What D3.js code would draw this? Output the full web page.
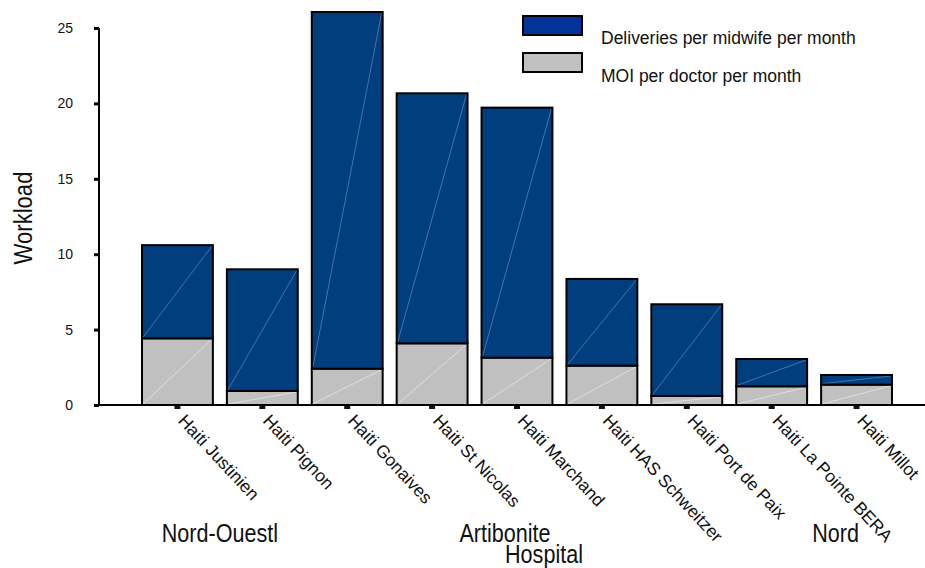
<!DOCTYPE html>
<html>
<head>
<meta charset="utf-8">
<script src="https://cdn.jsdelivr.net/npm/d3@7"></script>
<style>
  body { margin: 0; background: #fff; }
  text { font-family: "Liberation Sans", Arial, sans-serif; fill: #111; }
</style>
</head>
<body>
<script>
// données
const hospitals = ["Haiti Justinien", "Haiti Pignon", "Haiti Gonaives", "Haiti St Nicolas",
  "Haiti Marchand", "Haiti HAS Schweitzer", "Haiti Port de Paix", "Haiti La Pointe BERA", "Haiti Millot"]
const moi = [4.42, 0.93, 2.41, 4.09, 3.14, 2.61, 0.60, 1.24, 1.35]
const deliveries = [6.18, 8.07, 23.65, 16.58, 16.58, 5.75, 6.08, 1.81, 0.64]
const seriesNames = ["MOI per doctor per month", "Deliveries per midwife per month"]
const yTicks = [0, 5, 10, 15, 20, 25]
const regions = ["Nord-Ouestl", "Artibonite", "Nord"]

const width = 925
const height = 568

const svg = d3.select("body").append("svg")
  .attr("width", width)
  .attr("height", height)

// tableau pour d3.stack
const table = hospitals.map((h, i) => ({ name: h, moi: moi[i], del: deliveries[i] }))
const stacked = d3.stack().keys(["moi", "del"])(table)

const x = d3.scaleBand()
  .domain(hospitals)
  .range([135, 899])
  .paddingInner(0.165)
  .paddingOuter(0.0825)

const y = d3.scaleLinear()
  .domain([0, 25])
  .range([405, 28])

const fills = ["#c0c0c0", "#003e7e"]
const diag = ["#e6e6e6", "#5b7fb0"]

// barres empilées
stacked.forEach((layer, k) => {
  const g = svg.append("g")
  g.selectAll("rect")
    .data(layer)
    .enter()
    .append("rect")
    .attr("x", d => x(d.data.name))
    .attr("y", d => y(d[1]))
    .attr("width", x.bandwidth())
    .attr("height", d => y(d[0]) - y(d[1]))
    .attr("fill", fills[k])
  // petite diagonale claire dans chaque segment
  g.selectAll("line")
    .data(layer)
    .enter()
    .append("line")
    .attr("x1", d => x(d.data.name) + 1)
    .attr("y1", d => y(d[0]) - 1)
    .attr("x2", d => x(d.data.name) + x.bandwidth() - 1)
    .attr("y2", d => y(d[1]) + 1)
    .attr("stroke", diag[k])
    .attr("stroke-width", 0.8)
  g.selectAll("rect.out")
    .data(layer)
    .enter()
    .append("rect")
    .attr("class", "out")
    .attr("x", d => x(d.data.name))
    .attr("y", d => y(d[1]))
    .attr("width", x.bandwidth())
    .attr("height", d => y(d[0]) - y(d[1]))
    .attr("fill", "none")
    .attr("stroke", "#000")
    .attr("stroke-width", 2)
})

// axe y
const yAxis = svg.append("g")
  .attr("transform", "translate(99,0)")
  .call(d3.axisLeft(y).tickValues(yTicks).tickSize(5).tickPadding(21))
yAxis.select(".domain").attr("stroke", "#000").attr("stroke-width", 2).attr("d", "M0," + y(0) + "V" + y(25))
yAxis.selectAll(".tick line").attr("stroke", "#000").attr("stroke-width", 3)
yAxis.selectAll(".tick text").style("font-size", "14px").attr("fill", "#111")

// axe x
svg.append("line")
  .attr("x1", 94).attr("x2", 925)
  .attr("y1", y(0)).attr("y2", y(0))
  .attr("stroke", "#000").attr("stroke-width", 2)

const xAxis = svg.append("g")
  .attr("transform", "translate(0," + y(0) + ")")
  .call(d3.axisBottom(x).tickSize(0).tickPadding(0))
xAxis.select(".domain").remove()
xAxis.selectAll(".tick").append("rect")
  .attr("x", -3).attr("y", 1).attr("width", 6).attr("height", 3)
  .attr("fill", "#111")
xAxis.selectAll(".tick text")
  .style("font-size", "17.5px")
  .attr("text-anchor", "start")
  .attr("x", 0).attr("y", 0).attr("dy", "0.72em")
  .attr("transform", "translate(9,8) rotate(47)")

// titres (police étroite simulée avec scale)
svg.append("text")
  .attr("transform", "translate(32,218) rotate(-90) scale(0.85,1)")
  .attr("text-anchor", "middle")
  .style("font-size", "26px")
  .text("Workload")

svg.append("text")
  .attr("transform", "translate(" + (x(hospitals[4]) + x.bandwidth() / 2 + 27) + ",563) scale(0.83,1)")
  .attr("text-anchor", "middle")
  .style("font-size", "26px")
  .text("Hospital")

// régions
const regionX = [
  (x(hospitals[0]) + x(hospitals[1]) + x.bandwidth()) / 2,
  x(hospitals[4]) + x.bandwidth() / 2 - 12,
  x(hospitals[8]) + x.bandwidth() / 2 - 21
]
svg.selectAll("text.region")
  .data(regions)
  .enter()
  .append("text")
  .attr("class", "region")
  .attr("transform", (d, i) => "translate(" + regionX[i] + ",542) scale(0.83,1)")
  .attr("text-anchor", "middle")
  .style("font-size", "26px")
  .text(d => d)

// légende
const legend = svg.append("g").attr("transform", "translate(523,16)")
const legendItems = [
  { label: seriesNames[1], color: "#02339a" },
  { label: seriesNames[0], color: "#c0c0c0" }
]
legendItems.forEach((it, i) => {
  legend.append("rect")
    .attr("x", 0).attr("y", i * 37)
    .attr("width", 59).attr("height", 19)
    .attr("fill", it.color)
    .attr("stroke", "#000").attr("stroke-width", 2)
  legend.append("text")
    .attr("transform", "translate(78," + (i * 38 + 28) + ") scale(1,1.08)")
    .style("font-size", "17.5px")
    .text(it.label)
})
</script>
</body>
</html>
